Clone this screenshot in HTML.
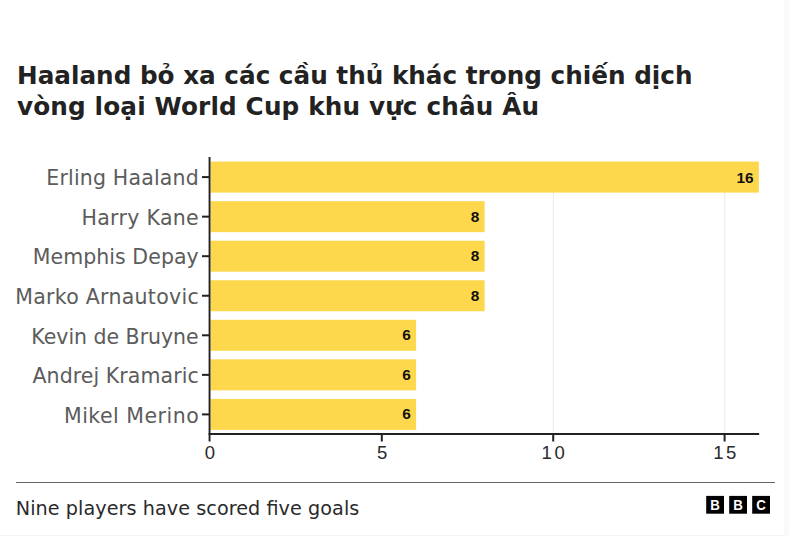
<!DOCTYPE html><html><head><meta charset="utf-8"><style>*{margin:0;padding:0}html,body{width:789px;height:546px;background:#fff;overflow:hidden}svg{display:block}</style></head><body>
<svg width="789" height="546" viewBox="0 0 789 546">
<rect x="0" y="0" width="789" height="546" fill="#fff"/>
<rect x="784" y="0" width="5" height="536" fill="#fafaf9"/>
<rect x="0" y="535" width="785" height="1" fill="#f4f4f4"/>
<g font-family="'DejaVu Sans', sans-serif" font-weight="bold" font-size="24.7" fill="#222">
<text x="17" y="83.5">Haaland bỏ xa các cầu thủ khác trong chiến dịch</text>
<text x="17" y="115.3" textLength="522">vòng loại World Cup khu vực châu Âu</text>
</g>
<rect x="552.70" y="162" width="1.2" height="271" fill="#eeeeee"/>
<rect x="724.10" y="162" width="1.2" height="271" fill="#eeeeee"/>
<rect x="210.5" y="161.60" width="548.38" height="31.0" fill="#FDD84C"/>
<rect x="210.5" y="201.15" width="274.14" height="31.0" fill="#FDD84C"/>
<rect x="210.5" y="240.70" width="274.14" height="31.0" fill="#FDD84C"/>
<rect x="210.5" y="280.25" width="274.14" height="31.0" fill="#FDD84C"/>
<rect x="210.5" y="319.80" width="205.58" height="31.0" fill="#FDD84C"/>
<rect x="210.5" y="359.35" width="205.58" height="31.0" fill="#FDD84C"/>
<rect x="210.5" y="398.90" width="205.58" height="31.0" fill="#FDD84C"/>
<rect x="202" y="176.10" width="8" height="2" fill="#222"/>
<rect x="202" y="215.65" width="8" height="2" fill="#222"/>
<rect x="202" y="255.20" width="8" height="2" fill="#222"/>
<rect x="202" y="294.75" width="8" height="2" fill="#222"/>
<rect x="202" y="334.30" width="8" height="2" fill="#222"/>
<rect x="202" y="373.85" width="8" height="2" fill="#222"/>
<rect x="202" y="413.40" width="8" height="2" fill="#222"/>
<rect x="208.6" y="157" width="1.9" height="284.5" fill="#222"/>
<rect x="208.6" y="433" width="550.58" height="2" fill="#222"/>
<rect x="380.80" y="433" width="2" height="8.5" fill="#222"/>
<rect x="552.20" y="433" width="2" height="8.5" fill="#222"/>
<rect x="723.60" y="433" width="2" height="8.5" fill="#222"/>
<g font-family="'DejaVu Sans', sans-serif" font-size="20.5" fill="#5c5c5c" text-anchor="end">
<text x="198.7" y="185.30" textLength="152.40">Erling Haaland</text>
<text x="198.7" y="224.85" textLength="117.27">Harry Kane</text>
<text x="198.7" y="264.40" textLength="165.97">Memphis Depay</text>
<text x="198.7" y="303.95" textLength="183.49">Marko Arnautovic</text>
<text x="198.7" y="343.50" textLength="167.33">Kevin de Bruyne</text>
<text x="198.7" y="383.05" textLength="166.19">Andrej Kramaric</text>
<text x="198.7" y="422.60" textLength="134.71">Mikel Merino</text>
</g>
<g font-family="'Liberation Sans', sans-serif" font-weight="bold" font-size="15.4" fill="#111" text-anchor="end">
<text x="753.58" y="182.8">16</text>
<text x="479.34" y="222">8</text>
<text x="479.34" y="261.3">8</text>
<text x="479.34" y="300.6">8</text>
<text x="410.78" y="340.2">6</text>
<text x="410.78" y="379.9">6</text>
<text x="410.78" y="419.4">6</text>
</g>
<g font-family="'Liberation Sans', sans-serif" font-size="18.5" fill="#2a2a2a">
<text x="204.8" y="458.5">0</text>
<text x="376.9" y="458.5">5</text>
<text x="541.6" y="458.5" textLength="23.3">10</text>
<text x="713.2" y="458.5" textLength="23.0">15</text>
</g>
<rect x="16" y="482" width="759" height="1" fill="#666"/>
<text x="15.8" y="514.6" font-family="'DejaVu Sans', sans-serif" font-size="19.2" fill="#2a2a2a" textLength="343.5">Nine players have scored five goals</text>
<rect x="706.2" y="495.9" width="17.8" height="17.8" fill="#000"/>
<text x="715.1" y="509.6" font-family="'Liberation Sans', sans-serif" font-weight="bold" font-size="14" fill="#fff" text-anchor="middle" textLength="9.6" lengthAdjust="spacingAndGlyphs">B</text>
<rect x="729.2" y="495.9" width="17.8" height="17.8" fill="#000"/>
<text x="738.1" y="509.6" font-family="'Liberation Sans', sans-serif" font-weight="bold" font-size="14" fill="#fff" text-anchor="middle" textLength="9.6" lengthAdjust="spacingAndGlyphs">B</text>
<rect x="752.2" y="495.9" width="17.8" height="17.8" fill="#000"/>
<text x="761.1" y="509.6" font-family="'Liberation Sans', sans-serif" font-weight="bold" font-size="14" fill="#fff" text-anchor="middle" textLength="9.6" lengthAdjust="spacingAndGlyphs">C</text>
</svg></body></html>
